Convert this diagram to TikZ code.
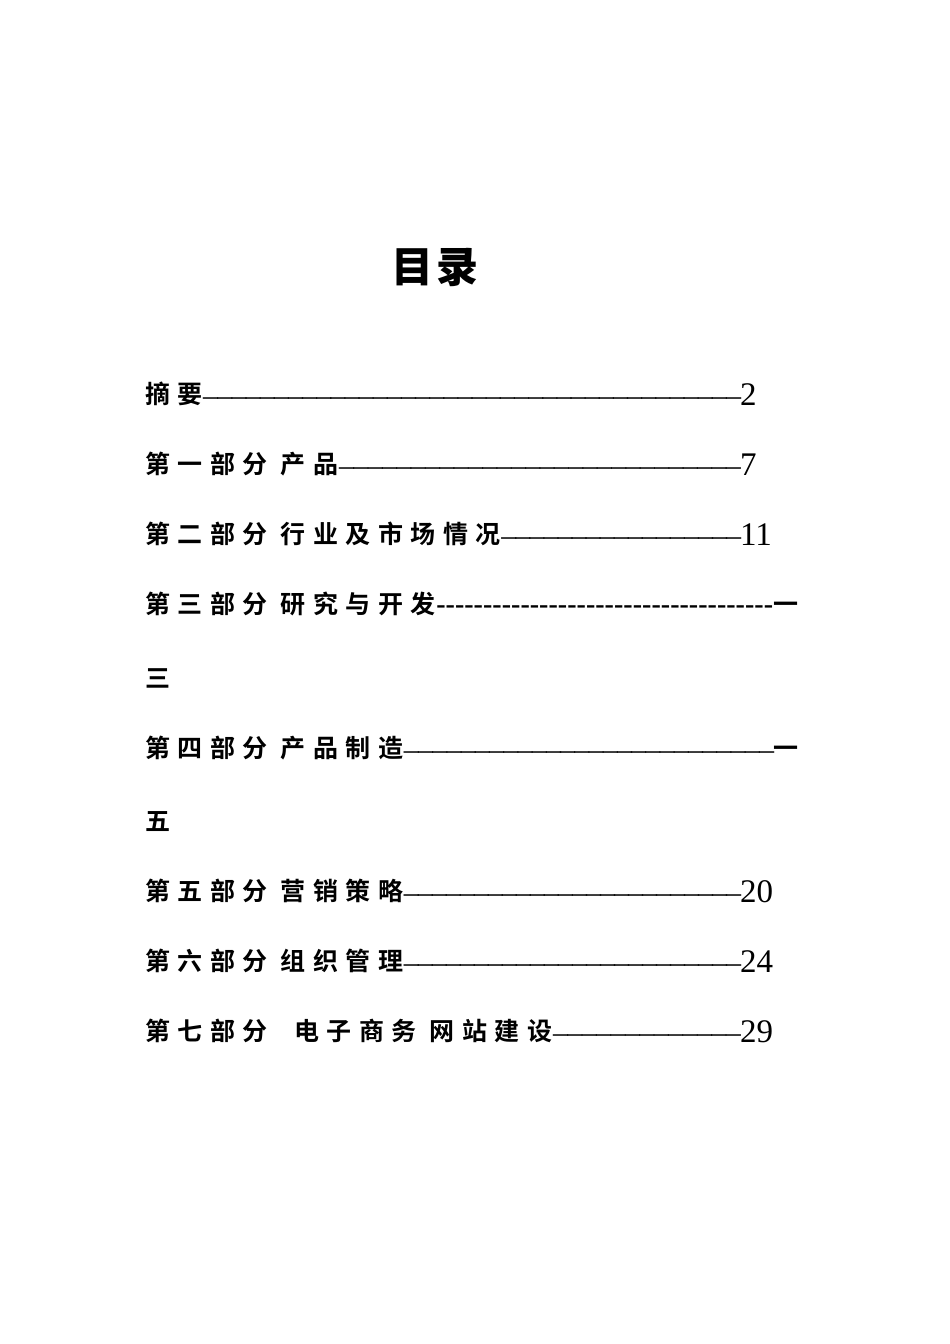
\documentclass[tikz,border=0pt]{standalone}
\usepackage{fontspec}
\setmainfont{Liberation Serif}
\newfontfamily\cjk[LetterSpace=30,BoldFont={Noto Sans CJK SC Bold}]{Noto Sans CJK SC Bold}
\newfontfamily\cjkt[LetterSpace=8]{Noto Sans CJK SC Black}
\usetikzlibrary{calc}
\newcommand{\dfill}[1]{\hbox to #1{\xleaders\hbox{\fontsize{30}{30}\selectfont –\kern-1pt}\hfill}}
\newcommand{\bfill}[1]{\hbox to #1{\xleaders\hbox{\fontsize{28}{28}\selectfont\bfseries -}\hfill}}
\tikzset{lab/.style={anchor=base west,inner sep=0pt,font=\cjk\fontsize{25}{25}\selectfont},
num/.style={anchor=base west,inner sep=0pt,font=\fontsize{33}{33}\selectfont}}
\begin{document}
\begin{tikzpicture}[x=1pt,y=-1pt]
\useasboundingbox (0,0) rectangle (950,1344);
\node[inner sep=0pt,font=\cjkt\fontsize{42}{42}\selectfont] (title) at (435,267) {目录};
\newcommand{\entry}[5]{%
 \node[lab] (t#1) at (145,#2) {#3};
 \node[num] (n#1) at (#4,#2+2) {#5};
 \path let \p1=(t#1.base east), \p2=(n#1.base west), \n1={\x2-\x1} in
   node[anchor=base west,inner sep=0pt] (d#1) at (\x1,#2+2) {\dfill{\n1}};}
\entry{a}{403}{摘要}{740}{2}
\entry{b}{473}{第一部分 产品}{740}{7}
\entry{c}{543}{第二部分 行业及市场情况}{740}{11}
\node[lab] (td) at (145,613) {第三部分 研究与开发};
\node[lab] (nd) at (773,613) {一};
\path let \p1=(td.base east), \p2=(nd.base west), \n1={\x2-\x1} in
  node[anchor=base west,inner sep=0pt] (dd) at (\x1,613) {\bfill{\n1}};
\node[lab] (te) at (145,687) {三};
\node[lab] (tf) at (145,757) {第四部分 产品制造};
\node[lab] (nf) at (773,757) {一};
\path let \p1=(tf.base east), \p2=(nf.base west), \n1={\x2-\x1} in
  node[anchor=base west,inner sep=0pt] (df) at (\x1,759) {\dfill{\n1}};
\node[lab] (tg) at (145,830) {五};
\entry{h}{900}{第五部分 营销策略}{740}{20}
\entry{i}{970}{第六部分 组织管理}{740}{24}
\entry{j}{1040}{第七部分\ \ 电子商务 网站建设}{740}{29}
\end{tikzpicture}
\end{document}
